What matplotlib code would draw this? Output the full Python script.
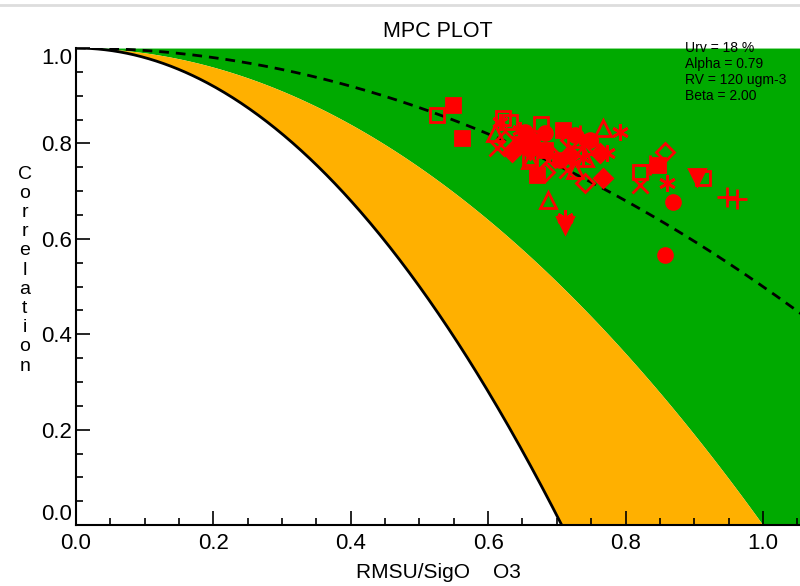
import matplotlib
matplotlib.use("Agg")
import matplotlib.pyplot as plt
import numpy as np
from matplotlib.ticker import MultipleLocator

plt.rcParams["font.family"] = ["Liberation Sans", "DejaVu Sans"]

# station results: RMSU/SigO (x) and correlation (y), grouped by symbol
sq_open_x = [0.525, 0.622, 0.632, 0.677, 0.821, 0.913, 0.661, 0.748, 0.726]
sq_open_y = [0.860, 0.853, 0.845, 0.841, 0.740, 0.727, 0.769, 0.792, 0.807]
sq_fill_x = [0.549, 0.562, 0.847, 0.709, 0.683, 0.671]
sq_fill_y = [0.881, 0.811, 0.755, 0.828, 0.786, 0.734]
tri_open_x = [0.767, 0.687, 0.610, 0.661, 0.726, 0.741]
tri_open_y = [0.832, 0.681, 0.822, 0.765, 0.744, 0.769]
cross_x = [0.613, 0.821, 0.705, 0.741, 0.687, 0.715]
cross_y = [0.790, 0.713, 0.776, 0.797, 0.765, 0.744]
aster_x = [0.792, 0.773, 0.860, 0.712, 0.617, 0.738, 0.646]
aster_y = [0.824, 0.780, 0.717, 0.644, 0.845, 0.769, 0.828]
dia_fill_x = [0.767, 0.635, 0.763, 0.719, 0.661]
dia_fill_y = [0.727, 0.782, 0.780, 0.776, 0.786]
dia_open_x = [0.857, 0.683, 0.741, 0.719, 0.624]
dia_open_y = [0.782, 0.740, 0.717, 0.807, 0.807]
circ_x = [0.869, 0.857, 0.654, 0.664, 0.683, 0.726, 0.748, 0.705]
circ_y = [0.677, 0.566, 0.824, 0.807, 0.822, 0.818, 0.807, 0.765]
plus_x = [0.948, 0.962, 0.836, 0.734]
plus_y = [0.688, 0.683, 0.755, 0.818]
tdown_x = [0.904, 0.712, 0.646]
tdown_y = [0.730, 0.629, 0.797]

xticks = [0.0, 0.2, 0.4, 0.6, 0.8, 1.0]
yticks = [0.0, 0.2, 0.4, 0.6, 0.8, 1.0]
info_text = "Urv = 18 %\nAlpha = 0.79\nRV = 120 ugm-3\nBeta = 2.00"

fig = plt.figure(figsize=(8, 5.86), dpi=100)
ax = fig.add_axes([0.095, 0.104, 0.905, 0.814])

x = np.linspace(0, 1.06, 600)
r_beta = np.clip(1 - 2 * x ** 2, 0, None)
r_orange = np.clip(1 - x ** 2, 0, None)
r_dash = 1 - 0.5 * x ** 2

ax.fill_between(x, r_orange, 1, color="#00aa00", lw=0)
ax.fill_between(x, r_beta, r_orange, color="#ffb000", lw=0)
m = x <= 1 / np.sqrt(2)
ax.plot(x[m], r_beta[m], color="black", lw=2)
ax.plot(x, r_dash, color="black", lw=2, ls=(0, (3.5, 2.5)))

red = "#ff0000"
kw = dict(ls="none", mew=2, color=red)
ax.plot(sq_open_x, sq_open_y, marker="s", mfc="none", ms=10.5, **kw)
ax.plot(sq_fill_x, sq_fill_y, marker="s", ms=10, **kw)
ax.plot(tri_open_x, tri_open_y, marker="^", mfc="none", ms=11, **kw)
ax.plot(cross_x, cross_y, marker="x", ms=11, **kw)
ax.plot(aster_x, aster_y, marker=(6, 2, 0), ms=12, **kw)
ax.plot(dia_fill_x, dia_fill_y, marker="D", ms=9, **kw)
ax.plot(dia_open_x, dia_open_y, marker="D", mfc="none", ms=9.5, **kw)
ax.plot(circ_x, circ_y, marker="o", ms=10, **kw)
ax.plot(plus_x, plus_y, marker="+", ms=14, **kw)
ax.plot(tdown_x, tdown_y, marker="v", ms=11, **kw)

ax.set_xlim(0, 1.054)
ax.set_ylim(0, 1.0)
ax.spines["top"].set_visible(False)
ax.spines["right"].set_visible(False)
ax.spines["left"].set_linewidth(1.5)
ax.spines["bottom"].set_linewidth(1.5)
ax.set_xticks(xticks)
ax.set_xticklabels(["%.1f" % v for v in xticks])
ax.set_yticks(yticks)
ax.set_yticklabels(["%.1f" % v for v in yticks])
ax.xaxis.set_minor_locator(MultipleLocator(0.05))
ax.yaxis.set_minor_locator(MultipleLocator(0.05))
ax.tick_params(which="both", direction="in", width=1.2, labelsize=16)
ax.tick_params(axis="y", pad=3)
ax.tick_params(axis="x", pad=6)
ax.tick_params(which="major", length=10)
ax.tick_params(which="minor", length=5)
yt = ax.yaxis.get_major_ticks()
yt[0].label1.set_va("bottom")
yt[-1].label1.set_va("top")

ax.set_title("MPC PLOT", fontsize=15.5, pad=8)
ax.set_xlabel("RMSU/SigO    O3", fontsize=15, labelpad=6)
fig.text(0.031, 0.539, "\n".join("Correlation"), fontsize=14, ha="center",
         va="center", linespacing=1.17)
fig.text(0.856, 0.93, info_text, fontsize=10, ha="left", va="top",
         linespacing=1.17)
fig.add_artist(plt.Line2D([0, 1], [0.991, 0.991], transform=fig.transFigure,
                          color="#dddddd", lw=2))

fig.savefig("out.png", dpi=100)
